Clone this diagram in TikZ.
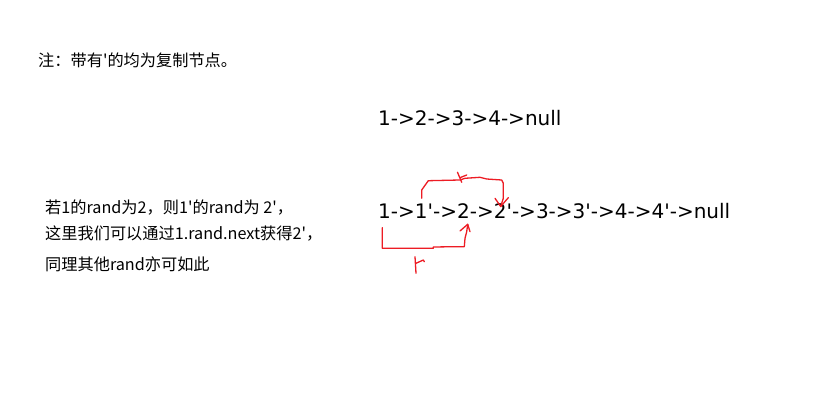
\documentclass[tikz,border=0pt]{standalone}
\usepackage{fontspec}
\newfontfamily\cjk{Noto Sans CJK SC}
\newfontfamily\dv{DejaVu Sans}
\definecolor{penred}{RGB}{237,28,36}
\begin{document}
\begin{tikzpicture}[x=1pt,y=-1pt,
  note/.style={anchor=base west,inner sep=0pt,font=\cjk\fontsize{16.2}{19}\selectfont},
  list/.style={anchor=base west,inner sep=0pt,font=\dv\fontsize{20}{24}\selectfont},
  pen/.style={draw=penred,line width=1.3pt,line join=round,line cap=round}]
\useasboundingbox[fill=white] (0,0) rectangle (814,406);
\node[note] (title) at (38,66.5) {注：带有'的均为复制节点。};
\node[list] (l1) at (378,126) {1->2->3->4->null};
\node[list] (l2) at (378,218.3) {1->1'->2->2'->3->3'->4->4'->null};
\node[note] (t1) at (45,213.3) {若1的rand为2，则1'的rand为 2'，};
\node[note] (t2) at (45,240) {这里我们可以通过1.rand.next获得2'，};
\node[note] (t3) at (45,270) {同理其他rand亦可如此};
% top red arrow
\coordinate (a1) at (421.7,198.3);
\coordinate (a2) at (500.7,206.5);
\draw[pen] (a1) -- (421.7,190) -- (428.3,180.7) -- (460,180) -- (465,178.3) -- (480,177.3) -- (486.7,179) -- (501.7,180) -- (503.3,183.3) -- (503.3,198.3) -- (a2);
\draw[pen] (495,198.3) -- (a2) -- (508.3,197.7);
\draw[pen] (457.5,172.3) -- (461.7,182.3);
\draw[pen] (460,177.7) -- (466.7,175);
% bottom red arrow
\coordinate (b1) at (382.3,227.7);
\coordinate (b2) at (467.7,224.3);
\draw[pen] (b1) -- (382.3,248.3) -- (433.3,248.3) -- (433.3,247) -- (455,246.7) -- (464.3,246.7) -- (465,238.3) -- (466.7,231.7) -- (b2);
\draw[pen] (460,231) -- (b2) -- (470,231.7);
\draw[pen] (415,256.7) -- (416,273.3);
\draw[pen] (416,263.3) -- (423.3,260) -- (424.3,261.7);
\end{tikzpicture}
\end{document}
